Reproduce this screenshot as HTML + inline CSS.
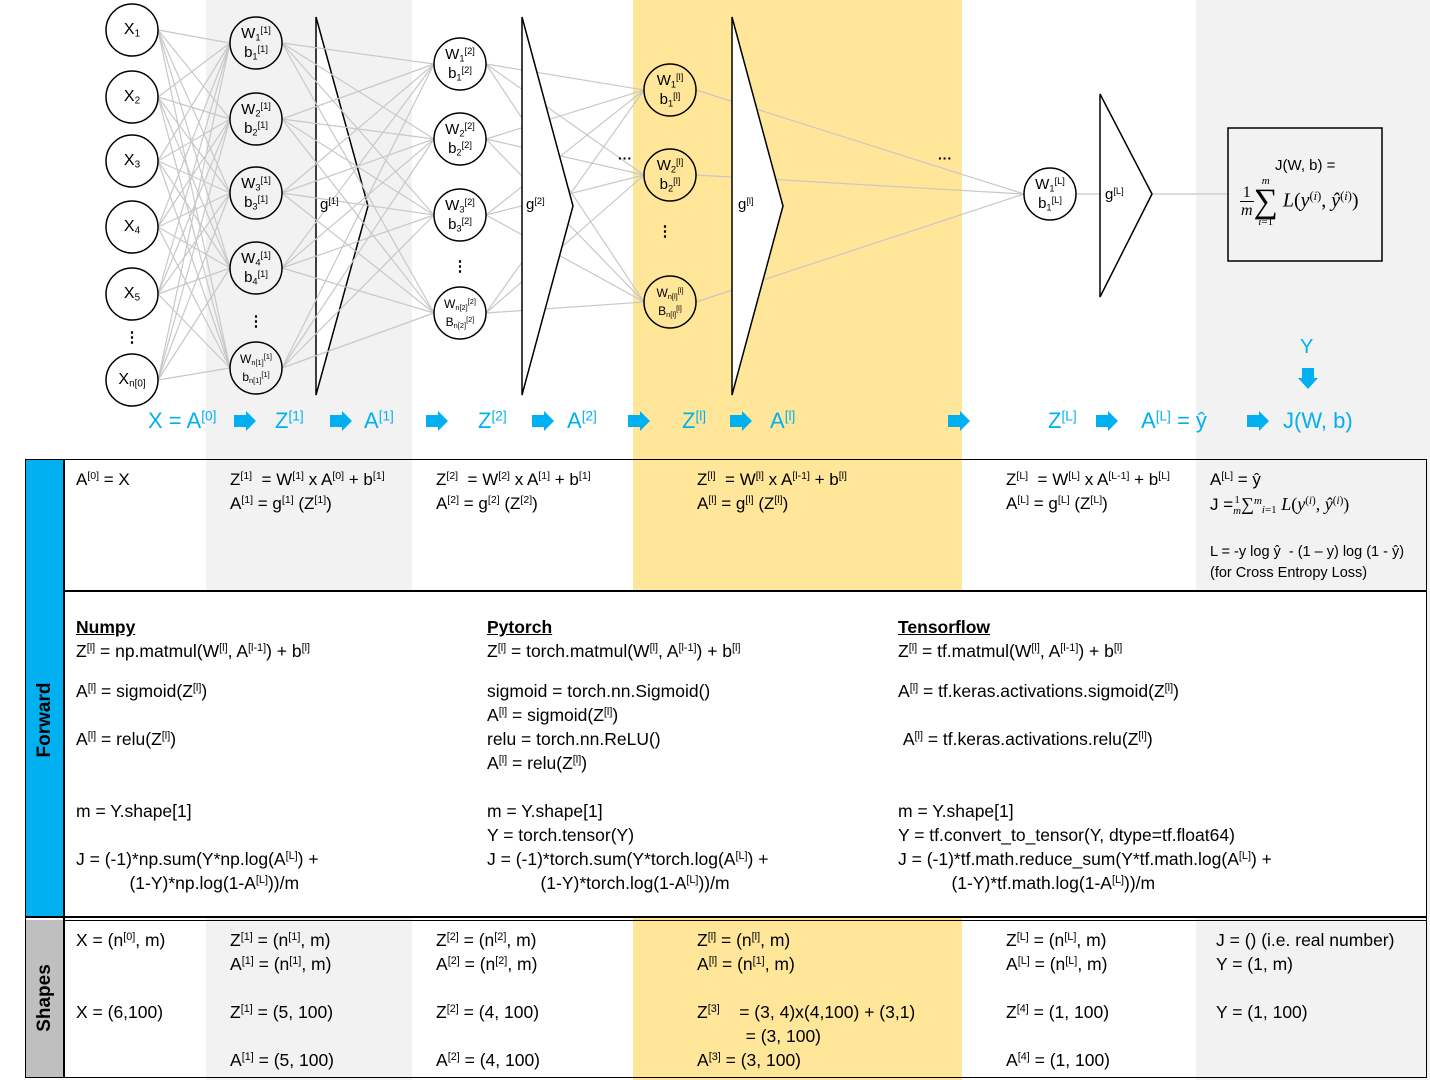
<!DOCTYPE html>
<html><head><meta charset="utf-8">
<style>
html,body{margin:0;padding:0}
body{width:1430px;height:1080px;position:relative;overflow:hidden;background:#fff;font-family:"Liberation Sans",sans-serif;color:#000}
.a{position:absolute;white-space:nowrap}
sup{font-size:0.62em;vertical-align:0.55em;line-height:0}
sub{font-size:0.62em;vertical-align:-0.25em;line-height:0}
.t{font-size:17px;line-height:24px}
.c{font-size:17.5px;line-height:24px}
.sp{height:16px}
.b{color:#00b0f0;font-size:22px;line-height:26px}
.n{position:absolute;width:52px;text-align:center;font-size:15px;line-height:19px}
.ns{font-size:12px}
.bg{position:absolute}
</style></head><body>
<div class="bg" style="left:206px;top:0;width:206px;height:1080px;background:#f2f2f2"></div>
<div class="bg" style="left:633px;top:0;width:329px;height:1080px;background:#ffe699"></div>
<div class="bg" style="left:1196px;top:0;width:234px;height:1080px;background:#f2f2f2"></div>
<div class="bg" style="left:64px;top:592px;width:1362px;height:326px;background:#fff"></div>

<svg id="net" width="1430" height="1080" style="position:absolute;left:0;top:0">
<g id="lines" stroke="#c8c8c8" stroke-width="1.2"></g>
<g id="shapes" fill="none" stroke="#000" stroke-width="1.5"></g>
<g id="lines2" stroke="#c8c8c8" stroke-width="1.2"></g>
<g id="circles" fill="none" stroke="#000" stroke-width="1.5"></g>
</svg>

<script>
const xNodes=[30,97,161,227,294,380];
const l1Nodes=[43,119,193,268,368];
const l2Nodes=[64,139,215,313];
const llNodes=[90,175,302];
const lLNodes=[194];
const cols=[132,256,460,670,1050];
const layers=[xNodes,l1Nodes,l2Nodes,llNodes,lLNodes];
const R=26;
const NS="http://www.w3.org/2000/svg";
const lg=document.getElementById('lines');
const lg2=document.getElementById('lines2');
for(let k=0;k<layers.length-1;k++){
  const tgt=(k==1)?lg2:lg;
  for(const a of layers[k]){for(const b of layers[k+1]){
    const ln=document.createElementNS(NS,'line');
    ln.setAttribute('x1',cols[k]+R);ln.setAttribute('y1',a);
    ln.setAttribute('x2',cols[k+1]-R);ln.setAttribute('y2',b);
    
    
    tgt.appendChild(ln);
  }}
}
const out=document.createElementNS(NS,'line');
out.setAttribute('x1',1076);out.setAttribute('y1',194);out.setAttribute('x2',1228);out.setAttribute('y2',194);


lg.appendChild(out);
const sg=document.getElementById('shapes');
const cg=document.getElementById('circles');
const tris=[[316,17,395,368,206],[522,17,395,573,206],[732,17,395,783,206],[1100,94,297,1152,194]];
for(const t of tris){
  const p=document.createElementNS(NS,'polygon');
  p.setAttribute('points',`${t[0]},${t[1]} ${t[3]},${t[4]} ${t[0]},${t[2]}`);
  p.setAttribute('fill','#fff');
  
  
  sg.appendChild(p);
}
for(let k=0;k<layers.length;k++){for(const y of layers[k]){
  const c=document.createElementNS(NS,'circle');
  c.setAttribute('cx',cols[k]);c.setAttribute('cy',y);c.setAttribute('r',R);
  c.setAttribute('fill',k==0||k==2||k==4?'#fff':(k==1?'#f2f2f2':'#ffe699'));
  
  
  cg.appendChild(c);
}}
const box=document.createElementNS(NS,'rect');
box.setAttribute('x',1228);box.setAttribute('y',128);box.setAttribute('width',154);box.setAttribute('height',133);


sg.appendChild(box);
const arrowsX=[234,330,426,532,628,730,948,1096,1247];
for(const x of arrowsX){
  const p=document.createElementNS(NS,'polygon');
  p.setAttribute('points',`${x},${415} ${x+12},415 ${x+12},411 ${x+22},421 ${x+12},431 ${x+12},427 ${x},427`);
  p.setAttribute('fill','#00b0f0');p.setAttribute('stroke','none');
  
  
  sg.appendChild(p);
}
const dn=document.createElementNS(NS,'polygon');
dn.setAttribute('points','1302,368 1314,368 1314,378 1318,378 1308,389 1298,378 1302,378');
dn.setAttribute('fill','#00b0f0');dn.setAttribute('stroke','none');


sg.appendChild(dn);
</script>

<!-- input nodes -->
<div class="n" style="left:106px;top:20px;font-size:16px">X<sub>1</sub></div>
<div class="n" style="left:106px;top:87px;font-size:16px">X<sub>2</sub></div>
<div class="n" style="left:106px;top:151px;font-size:16px">X<sub>3</sub></div>
<div class="n" style="left:106px;top:217px;font-size:16px">X<sub>4</sub></div>
<div class="n" style="left:106px;top:284px;font-size:16px">X<sub>5</sub></div>
<div class="n" style="left:106px;top:370px;font-size:16px">X<sub>n[0]</sub></div>
<div class="n" style="left:106px;top:328px;font-weight:bold">⋮</div>

<div class="n" style="left:230px;top:24px">W<sub>1</sub><sup>[1]</sup><br>b<sub>1</sub><sup>[1]</sup></div>
<div class="n" style="left:230px;top:100px">W<sub>2</sub><sup>[1]</sup><br>b<sub>2</sub><sup>[1]</sup></div>
<div class="n" style="left:230px;top:174px">W<sub>3</sub><sup>[1]</sup><br>b<sub>3</sub><sup>[1]</sup></div>
<div class="n" style="left:230px;top:249px">W<sub>4</sub><sup>[1]</sup><br>b<sub>4</sub><sup>[1]</sup></div>
<div class="n ns" style="left:230px;top:350px;line-height:18px">W<sub>n[1]</sub><sup>[1]</sup><br>b<sub>n[1]</sub><sup>[1]</sup></div>
<div class="n" style="left:230px;top:312px;font-weight:bold">⋮</div>
<div class="a" style="left:320px;top:196px;font-size:15px">g<sup>[1]</sup></div>

<div class="n" style="left:434px;top:45px">W<sub>1</sub><sup>[2]</sup><br>b<sub>1</sub><sup>[2]</sup></div>
<div class="n" style="left:434px;top:120px">W<sub>2</sub><sup>[2]</sup><br>b<sub>2</sub><sup>[2]</sup></div>
<div class="n" style="left:434px;top:196px">W<sub>3</sub><sup>[2]</sup><br>b<sub>3</sub><sup>[2]</sup></div>
<div class="n ns" style="left:434px;top:295px;line-height:18px">W<sub>n[2]</sub><sup>[2]</sup><br>B<sub>n[2]</sub><sup>[2]</sup></div>
<div class="n" style="left:434px;top:257px;font-weight:bold">⋮</div>
<div class="a" style="left:526px;top:196px;font-size:15px">g<sup>[2]</sup></div>
<div class="a" style="left:618px;top:150px;font-size:14px;font-weight:bold">···</div>

<div class="n" style="left:644px;top:71px">W<sub>1</sub><sup>[l]</sup><br>b<sub>1</sub><sup>[l]</sup></div>
<div class="n" style="left:644px;top:156px">W<sub>2</sub><sup>[l]</sup><br>b<sub>2</sub><sup>[l]</sup></div>
<div class="n ns" style="left:644px;top:284px;line-height:18px">W<sub>n[l]</sub><sup>[l]</sup><br>B<sub>n[l]</sub><sup>[l]</sup></div>
<div class="n" style="left:639px;top:222px;font-weight:bold">⋮</div>
<div class="a" style="left:738px;top:196px;font-size:15px">g<sup>[l]</sup></div>
<div class="a" style="left:938px;top:150px;font-size:14px;font-weight:bold">···</div>

<div class="n" style="left:1024px;top:175px">W<sub>1</sub><sup>[L]</sup><br>b<sub>1</sub><sup>[L]</sup></div>
<div class="a" style="left:1105px;top:186px;font-size:15px">g<sup>[L]</sup></div>

<div class="a" style="left:1275px;top:157px;font-size:15px">J(W, b) =</div>
<div class="a" style="left:1240px;top:176px;font-family:'Liberation Serif',serif;font-size:20px;line-height:22px">
<span style="display:inline-block;text-align:center;vertical-align:middle;font-size:16px;line-height:18px">1<br><span style="border-top:1px solid #000;font-style:italic;padding:0 1px">m</span></span><span style="display:inline-block;text-align:center;vertical-align:middle;font-size:11px;line-height:11px"><i>m</i><br><span style="font-size:34px;line-height:30px">∑</span><br><i>i</i>=1</span> <i>L</i>(<i>y</i><sup>(<i>i</i>)</sup>, <i>ŷ</i><sup>(<i>i</i>)</sup>)</div>

<div class="a b" style="left:1300px;top:334px;font-size:20px">Y</div>

<!-- flow labels -->
<div class="a b" style="left:148px;top:408px">X = A<sup>[0]</sup></div>
<div class="a b" style="left:275px;top:408px">Z<sup>[1]</sup></div>
<div class="a b" style="left:364px;top:408px">A<sup>[1]</sup></div>
<div class="a b" style="left:478px;top:408px">Z<sup>[2]</sup></div>
<div class="a b" style="left:567px;top:408px">A<sup>[2]</sup></div>
<div class="a b" style="left:682px;top:408px">Z<sup>[l]</sup></div>
<div class="a b" style="left:770px;top:408px">A<sup>[l]</sup></div>
<div class="a b" style="left:1048px;top:408px">Z<sup>[L]</sup></div>
<div class="a b" style="left:1141px;top:408px">A<sup>[L]</sup> = ŷ</div>
<div class="a b" style="left:1283px;top:408px">J(W, b)</div>

<!-- table frame -->
<div class="bg" style="left:26px;top:460px;width:38px;height:458px;background:#00b0f0"></div>
<div class="bg" style="left:26px;top:920px;width:38px;height:158px;background:#bfbfbf"></div>
<div class="bg" style="left:25px;top:459px;width:1400px;height:617px;border:1.5px solid #000"></div>
<div class="bg" style="left:63px;top:460px;width:1.5px;height:618px;background:#000"></div>
<div class="bg" style="left:64px;top:590px;width:1362px;height:1.5px;background:#000"></div>
<div class="bg" style="left:26px;top:916px;width:1400px;height:1.5px;background:#000"></div>
<div class="bg" style="left:64px;top:919.5px;width:1362px;height:1px;background:#000"></div>
<div class="a" style="left:45px;top:720px;transform:translate(-50%,-50%) rotate(-90deg);font-weight:bold;font-size:19px">Forward</div>
<div class="a" style="left:45px;top:998px;transform:translate(-50%,-50%) rotate(-90deg);font-weight:bold;font-size:19px">Shapes</div>

<!-- forward row -->
<div class="a t" style="left:76px;top:468px">A<sup>[0]</sup> = X</div>
<div class="a t" style="left:230px;top:468px">Z<sup>[1]</sup> &nbsp;= W<sup>[1]</sup> x A<sup>[0]</sup> + b<sup>[1]</sup><br>A<sup>[1]</sup> = g<sup>[1]</sup> (Z<sup>[1]</sup>)</div>
<div class="a t" style="left:436px;top:468px">Z<sup>[2]</sup> &nbsp;= W<sup>[2]</sup> x A<sup>[1]</sup> + b<sup>[1]</sup><br>A<sup>[2]</sup> = g<sup>[2]</sup> (Z<sup>[2]</sup>)</div>
<div class="a t" style="left:697px;top:468px">Z<sup>[l]</sup> &nbsp;= W<sup>[l]</sup> x A<sup>[l-1]</sup> + b<sup>[l]</sup><br>A<sup>[l]</sup> = g<sup>[l]</sup> (Z<sup>[l]</sup>)</div>
<div class="a t" style="left:1006px;top:468px">Z<sup>[L]</sup> &nbsp;= W<sup>[L]</sup> x A<sup>[L-1]</sup> + b<sup>[L]</sup><br>A<sup>[L]</sup> = g<sup>[L]</sup> (Z<sup>[L]</sup>)</div>
<div class="a t" style="left:1210px;top:468px">A<sup>[L]</sup> = ŷ<br>J =<span style="font-family:'Liberation Serif',serif;font-size:18px"><span style="display:inline-block;vertical-align:middle;font-size:11px;line-height:11px;text-align:center">1<br><i>m</i></span>∑<sup style="font-size:11px"><i>m</i></sup><sub style="font-size:11px"><i>i</i>=1</sub> <i>L</i>(<i>y</i><sup>(<i>i</i>)</sup>, <i>ŷ</i><sup>(<i>i</i>)</sup>)</span></div>
<div class="a" style="left:1210px;top:542px;font-size:14.5px;line-height:21px">L = -y log ŷ &nbsp;- (1 – y) log (1 - ŷ)<br>(for Cross Entropy Loss)</div>

<!-- code row -->
<div class="a c" style="left:76px;top:615px"><b><u>Numpy</u></b><br>Z<sup>[l]</sup> = np.matmul(W<sup>[l]</sup>, A<sup>[l-1]</sup>) + b<sup>[l]</sup><div class="sp"></div>A<sup>[l]</sup> = sigmoid(Z<sup>[l]</sup>)<br><br>A<sup>[l]</sup> = relu(Z<sup>[l]</sup>)<br><br><br>m = Y.shape[1]<br><br>J = (-1)*np.sum(Y*np.log(A<sup>[L]</sup>) +<br>&nbsp;&nbsp;&nbsp;&nbsp;&nbsp;&nbsp;&nbsp;&nbsp;&nbsp;&nbsp;&nbsp;(1-Y)*np.log(1-A<sup>[L]</sup>))/m</div>
<div class="a c" style="left:487px;top:615px"><b><u>Pytorch</u></b><br>Z<sup>[l]</sup> = torch.matmul(W<sup>[l]</sup>, A<sup>[l-1]</sup>) + b<sup>[l]</sup><div class="sp"></div>sigmoid = torch.nn.Sigmoid()<br>A<sup>[l]</sup> = sigmoid(Z<sup>[l]</sup>)<br>relu = torch.nn.ReLU()<br>A<sup>[l]</sup> = relu(Z<sup>[l]</sup>)<br><br>m = Y.shape[1]<br>Y = torch.tensor(Y)<br>J = (-1)*torch.sum(Y*torch.log(A<sup>[L]</sup>) +<br>&nbsp;&nbsp;&nbsp;&nbsp;&nbsp;&nbsp;&nbsp;&nbsp;&nbsp;&nbsp;&nbsp;(1-Y)*torch.log(1-A<sup>[L]</sup>))/m</div>
<div class="a c" style="left:898px;top:615px"><b><u>Tensorflow</u></b><br>Z<sup>[l]</sup> = tf.matmul(W<sup>[l]</sup>, A<sup>[l-1]</sup>) + b<sup>[l]</sup><div class="sp"></div>A<sup>[l]</sup> = tf.keras.activations.sigmoid(Z<sup>[l]</sup>)<br><br>&nbsp;A<sup>[l]</sup> = tf.keras.activations.relu(Z<sup>[l]</sup>)<br><br><br>m = Y.shape[1]<br>Y = tf.convert_to_tensor(Y, dtype=tf.float64)<br>J = (-1)*tf.math.reduce_sum(Y*tf.math.log(A<sup>[L]</sup>) +<br>&nbsp;&nbsp;&nbsp;&nbsp;&nbsp;&nbsp;&nbsp;&nbsp;&nbsp;&nbsp;&nbsp;(1-Y)*tf.math.log(1-A<sup>[L]</sup>))/m</div>

<!-- shapes row -->
<div class="a c" style="left:76px;top:928px">X = (n<sup>[0]</sup>, m)<br><br><br>X = (6,100)</div>
<div class="a c" style="left:230px;top:928px">Z<sup>[1]</sup> = (n<sup>[1]</sup>, m)<br>A<sup>[1]</sup> = (n<sup>[1]</sup>, m)<br><br>Z<sup>[1]</sup> = (5, 100)<br><br>A<sup>[1]</sup> = (5, 100)</div>
<div class="a c" style="left:436px;top:928px">Z<sup>[2]</sup> = (n<sup>[2]</sup>, m)<br>A<sup>[2]</sup> = (n<sup>[2]</sup>, m)<br><br>Z<sup>[2]</sup> = (4, 100)<br><br>A<sup>[2]</sup> = (4, 100)</div>
<div class="a c" style="left:697px;top:928px">Z<sup>[l]</sup> = (n<sup>[l]</sup>, m)<br>A<sup>[l]</sup> = (n<sup>[1]</sup>, m)<br><br>Z<sup>[3]</sup> &nbsp;&nbsp;&nbsp;= (3, 4)x(4,100) + (3,1)<br>&nbsp;&nbsp;&nbsp;&nbsp;&nbsp;&nbsp;&nbsp;&nbsp;&nbsp;&nbsp;= (3, 100)<br>A<sup>[3]</sup> = (3, 100)</div>
<div class="a c" style="left:1006px;top:928px">Z<sup>[L]</sup> = (n<sup>[L]</sup>, m)<br>A<sup>[L]</sup> = (n<sup>[L]</sup>, m)<br><br>Z<sup>[4]</sup> = (1, 100)<br><br>A<sup>[4]</sup> = (1, 100)</div>
<div class="a c" style="left:1216px;top:928px">J = () (i.e. real number)<br>Y = (1, m)<br><br>Y = (1, 100)</div>
</body></html>
